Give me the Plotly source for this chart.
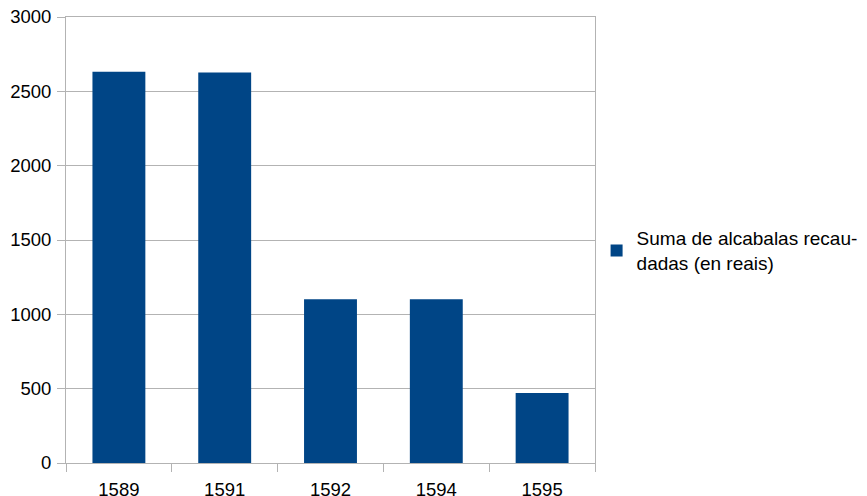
import plotly.graph_objects as go

years = ["1589", "1591", "1592", "1594", "1595"]
values = [2632, 2626, 1102, 1102, 471]
series_name = "Suma de alcabalas recau-<br>dadas (en reais)"

fig = go.Figure()
fig.add_trace(go.Bar(x=years, y=values, name=series_name, marker_color="#004586",
                     marker_line_width=0, width=0.5, showlegend=True))

fig.update_layout(
    width=859, height=488,
    margin=dict(l=58, r=272, t=9, b=33, autoexpand=False),
    paper_bgcolor="white", plot_bgcolor="white",
    font=dict(family="Liberation Sans", size=18.5, color="black"),
    showlegend=True,
    legend=dict(x=1.003, xanchor="left", y=0.476, yanchor="middle",
                font=dict(size=19), bgcolor="rgba(0,0,0,0)"),
    xaxis=dict(type="category", tickson="boundaries", ticks="outside", ticklen=8,
               tickcolor="#b3b3b3", showline=True, linecolor="#b3b3b3", mirror=True,
               showgrid=False, tickfont=dict(size=18.5), ticklabelstandoff=10,
               ticklabeloverflow="allow"),
    yaxis=dict(range=[0, 3000], dtick=500, ticks="outside", ticklen=8, tickcolor="#b3b3b3",
               showline=True, linecolor="#b3b3b3", mirror=True, gridcolor="#b3b3b3",
               zeroline=False, tickfont=dict(size=18.5), ticklabelstandoff=2,
               ticklabeloverflow="allow"),
)
fig.write_html("out.html")
